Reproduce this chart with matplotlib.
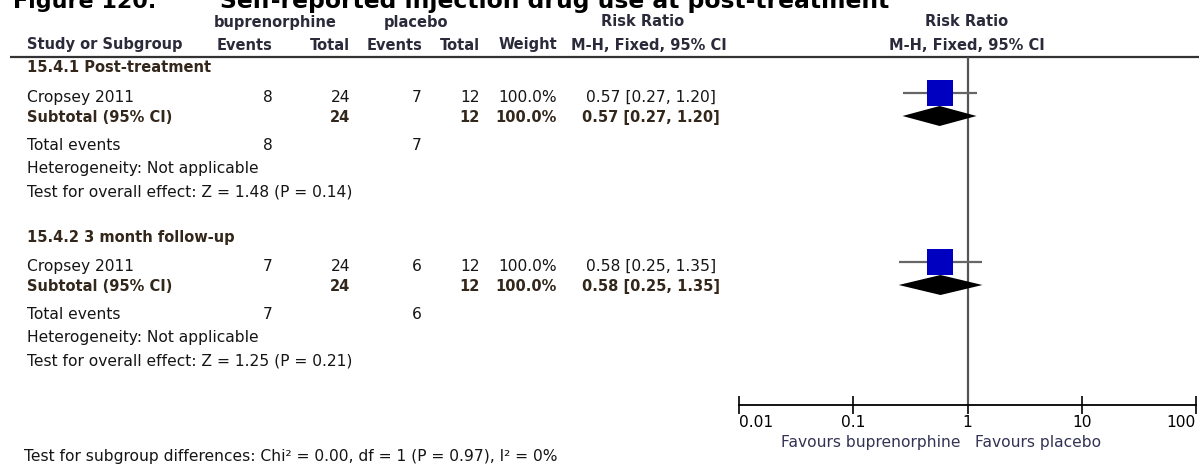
import matplotlib
matplotlib.use("Agg")
import matplotlib.pyplot as plt

# ---------------- data ----------------
title_num = "Figure 120."
title_txt = "Self-reported injection drug use at post-treatment"
exp_name = "buprenorphine"
ctl_name = "placebo"
subgroups = ["15.4.1 Post-treatment", "15.4.2 3 month follow-up"]
studies = ["Cropsey 2011", "Cropsey 2011"]
exp_events = [8, 7]
exp_total = [24, 24]
ctl_events = [7, 6]
ctl_total = [12, 12]
weights = [100.0, 100.0]
rr = [0.57, 0.58]
ci_lo = [0.27, 0.25]
ci_hi = [1.20, 1.35]
z_vals = [1.48, 1.25]
p_vals = [0.14, 0.21]
ticks = [0.01, 0.1, 1, 10, 100]
tick_labels = ["0.01", "0.1", "1", "10", "100"]
subgroup_test = "Test for subgroup differences: Chi\u00b2 = 0.00, df = 1 (P = 0.97), I\u00b2 = 0%"

# ---------------- layout (pixels) ----------------
W, H = 1199, 465
FONT = "DejaVu Sans"
REG = 11.2      # regular text size (pt)
HDR = 10.5      # bold header size
C_TXT = "#151515"
C_HDR = "#2a2a3a"
C_SUB = "#33261a"

# column anchors
x_label = 27
x_ee, x_et, x_ce, x_ct, x_w = 273, 350, 422, 480, 557
x_rr = 651

# row positions of the two blocks
block_top = [68, 237]

fig = plt.figure(figsize=(W / 100, H / 100), dpi=100)
tab = fig.add_axes([0, 0, 1, 1])
tab.set_xlim(0, W)
tab.set_ylim(H, 0)
tab.axis("off")

def t(x, y, s, ha="left", bold=False, color=C_TXT, size=None):
    tab.text(x, y, s, ha=ha, va="center", family=FONT,
             fontsize=size or (HDR if bold else REG),
             fontweight="bold" if bold else "normal", color=color)

# title (cut at the top edge, as in the source page)
tab.text(13, 8, title_num, ha="left", va="baseline", family=FONT,
         fontsize=16, fontweight="bold", color="black")
tab.text(220, 8, title_txt, ha="left", va="baseline", family=FONT,
         fontsize=16.9, fontweight="bold", color="black")

# headers
t(275, 22, exp_name, ha="center", bold=True, color=C_HDR)
t(416, 22, ctl_name, ha="center", bold=True, color=C_HDR)
t(643, 22, "Risk Ratio", ha="center", bold=True, color=C_HDR)
t(967, 22, "Risk Ratio", ha="center", bold=True, color=C_HDR)
t(x_label, 45, "Study or Subgroup", bold=True, color=C_HDR)
t(x_ee, 45, "Events", ha="right", bold=True, color=C_HDR)
t(x_et, 45, "Total", ha="right", bold=True, color=C_HDR)
t(x_ce, 45, "Events", ha="right", bold=True, color=C_HDR)
t(x_ct, 45, "Total", ha="right", bold=True, color=C_HDR)
t(x_w, 45, "Weight", ha="right", bold=True, color=C_HDR)
t(649, 45, "M-H, Fixed, 95% CI", ha="center", bold=True, color=C_HDR)
t(967, 45, "M-H, Fixed, 95% CI", ha="center", bold=True, color=C_HDR)
tab.plot([10, W], [57, 57], color="#333333", lw=1.6, solid_capstyle="butt")

# forest axis on a log scale
x0, x1 = 739, 1196
fax = fig.add_axes([x0 / W, 0, (x1 - x0) / W, 1])
fax.set_xscale("log")
fax.set_xlim(ticks[0], ticks[-1])
fax.set_ylim(H, 0)
fax.patch.set_alpha(0)
for side in ["top", "right", "left"]:
    fax.spines[side].set_visible(False)
fax.spines["bottom"].set_position(("data", 405))
fax.spines["bottom"].set_linewidth(1.3)
fax.set_yticks([])
fax.set_xticks(ticks)
fax.set_xticklabels(tick_labels, family=FONT, fontsize=REG)
fax.xaxis.set_minor_locator(matplotlib.ticker.NullLocator())
fax.tick_params(axis="x", direction="inout", length=13, width=1.2, pad=1,
                colors="black")
labs = fax.get_xticklabels()
labs[0].set_horizontalalignment("left")
labs[-1].set_horizontalalignment("right")
fax.vlines(1, 57, 405, color="#555555", lw=1.6)
fax.text(0.86, 442, "Favours " + exp_name, ha="right", va="center",
         family=FONT, fontsize=REG, color="#333355")
fax.text(1.17, 442, "Favours " + ctl_name, ha="left", va="center",
         family=FONT, fontsize=REG, color="#333355")

for i, top in enumerate(block_top):
    y_study = top + 29
    y_sub = y_study + 20
    y_tot = y_sub + 28
    y_het = y_tot + 23
    y_test = y_het + 24

    t(x_label, top, subgroups[i], bold=True, color=C_SUB)

    t(x_label, y_study, studies[i])
    t(x_ee, y_study, str(exp_events[i]), ha="right")
    t(x_et, y_study, str(exp_total[i]), ha="right")
    t(x_ce, y_study, str(ctl_events[i]), ha="right")
    t(x_ct, y_study, str(ctl_total[i]), ha="right")
    t(x_w, y_study, f"{weights[i]:.1f}%", ha="right")
    ci_txt = f"{rr[i]:.2f} [{ci_lo[i]:.2f}, {ci_hi[i]:.2f}]"
    t(x_rr, y_study, ci_txt, ha="center")

    t(x_label, y_sub, "Subtotal (95% CI)", bold=True, color=C_SUB)
    t(x_et, y_sub, str(exp_total[i]), ha="right", bold=True, color=C_SUB)
    t(x_ct, y_sub, str(ctl_total[i]), ha="right", bold=True, color=C_SUB)
    t(x_w, y_sub, f"{weights[i]:.1f}%", ha="right", bold=True, color=C_SUB)
    t(x_rr, y_sub, ci_txt, ha="center", bold=True, color=C_SUB)

    t(x_label, y_tot, "Total events")
    t(x_ee, y_tot, str(exp_events[i]), ha="right")
    t(x_ce, y_tot, str(ctl_events[i]), ha="right")
    t(x_label, y_het, "Heterogeneity: Not applicable")
    t(x_label, y_test, f"Test for overall effect: Z = {z_vals[i]:.2f} (P = {p_vals[i]:.2f})")

    # study CI line + square
    ym = y_study - 4
    fax.plot([ci_lo[i], ci_hi[i]], [ym, ym], color="#666666", lw=1.6,
             solid_capstyle="butt", zorder=2)
    fax.plot([rr[i]], [ym], marker="s", ms=19, color="#0000c0", mec="#0000c0",
             mew=0, ls="none", zorder=3)
    # pooled diamond
    yd = y_sub - 1
    fax.fill([ci_lo[i], rr[i], ci_hi[i], rr[i]], [yd, yd - 10, yd, yd + 10],
             color="black", lw=0, zorder=4)

t(24, 456, subgroup_test)

fig.savefig("out.png", dpi=100)
